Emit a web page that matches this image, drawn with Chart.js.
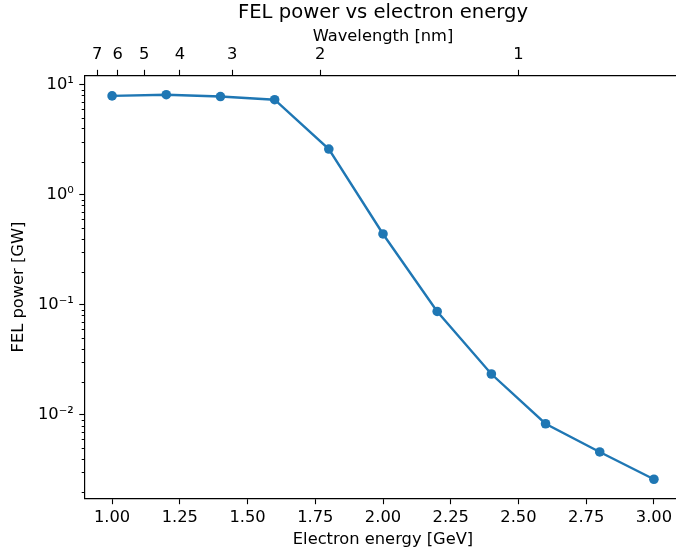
<!DOCTYPE html>
<html>
<head>
<meta charset="utf-8">
<script src="https://cdn.jsdelivr.net/npm/chart.js@4.4.1/dist/chart.umd.min.js"></script>
<style>
  html, body { margin: 0; padding: 0; overflow: hidden; background: #fff; }
  canvas { display: block; }
</style>
</head>
<body>
<canvas id="felPower" width="690" height="555"></canvas>
<script>
// electron energy [GeV] and FEL output power [GW]
const energies = [1.0, 1.2, 1.4, 1.6, 1.8, 2.0, 2.2, 2.4, 2.6, 2.8, 3.0];
const powers = [7.9, 8.1, 7.8, 7.3, 2.6, 0.44, 0.087, 0.0235, 0.0083, 0.0046, 0.0026];

// axis ticks
const energyTicks = [1.00, 1.25, 1.50, 1.75, 2.00, 2.25, 2.50, 2.75, 3.00];
const wavelengthTicks = [7, 6, 5, 4, 3, 2, 1];
const powerDecades = [-3, -2, -1, 0, 1];
const minorSteps = [2, 3, 4, 5, 6, 7, 8, 9];
const supers = { '-': '\u207B', '0': '\u2070', '1': '\u00B9', '2': '\u00B2', '3': '\u00B3' };

// resonant wavelength scales as 1/E^2 (1 nm at 2.5 GeV)
const energyForWavelength = lam => 2.5 / Math.sqrt(lam);

const FONT = 'DejaVu Sans';
const FS = 16.3;
const BLUE = '#1f77b4';
const TICK = 5.7;

// short minor ticks on the log axis
const minorTicks = {
  id: 'minorTicks',
  afterDraw(chart) {
    const y = chart.scales.y;
    const ctx = chart.ctx;
    ctx.save();
    ctx.strokeStyle = '#000';
    ctx.lineWidth = 1;
    y.ticks.forEach(t => {
      if (t.major) return;
      const py = Math.round(y.getPixelForValue(t.value)) + 0.5;
      ctx.beginPath();
      ctx.moveTo(y.right - 3.3, py);
      ctx.lineTo(y.right, py);
      ctx.stroke();
    });
    ctx.restore();
  }
};

// center the title over the plot area instead of the whole canvas
const titleOverAxes = {
  id: 'titleOverAxes',
  afterLayout(chart) {
    const t = chart.titleBlock;
    if (!t) return;
    t.left = chart.chartArea.left;
    t.right = chart.chartArea.right;
  }
};

const axisStyle = {
  grid: {
    display: true,
    drawOnChartArea: false,
    tickLength: TICK,
    tickWidth: 1.1,
    tickColor: '#000'
  },
  border: { display: true, color: '#000', width: 1.2 }
};

new Chart(document.getElementById('felPower'), {
  type: 'line',
  data: {
    datasets: [{
      data: energies.map((e, i) => ({ x: e, y: powers[i] })),
      borderColor: BLUE,
      backgroundColor: BLUE,
      borderWidth: 2.4,
      pointRadius: 4.8,
      pointBorderWidth: 0,
      pointBackgroundColor: BLUE,
      tension: 0,
      fill: false
    }]
  },
  plugins: [minorTicks, titleOverAxes],
  options: {
    animation: false,
    responsive: false,
    devicePixelRatio: 1,
    layout: { padding: { left: 0, right: 9, top: 0, bottom: 0 } },
    plugins: {
      legend: { display: false },
      tooltip: { enabled: false },
      title: {
        display: true,
        text: 'FEL power vs electron energy',
        color: '#000',
        font: { family: FONT, size: 19.6, weight: 'normal' },
        padding: { top: 1.5, bottom: 0.5 }
      }
    },
    scales: {
      x: {
        ...axisStyle,
        type: 'linear',
        position: 'bottom',
        min: 0.9,
        max: 3.1,
        afterBuildTicks: axis => { axis.ticks = energyTicks.map(v => ({ value: v })); },
        afterFit: axis => { axis.height = 56.5; },
        ticks: {
          autoSkip: false,
          maxRotation: 0,
          padding: 4,
          color: '#000',
          font: { family: FONT, size: FS },
          callback: v => v.toFixed(2)
        },
        title: {
          display: true,
          text: 'Electron energy [GeV]',
          color: '#000',
          font: { family: FONT, size: FS },
          padding: { top: 0, bottom: 5.5 }
        }
      },
      x2: {
        ...axisStyle,
        type: 'linear',
        position: 'top',
        min: 0.9,
        max: 3.1,
        afterBuildTicks: axis => {
          axis.ticks = wavelengthTicks.map(lam => ({ value: energyForWavelength(lam) }));
        },
        afterFit: axis => { axis.height = 50; },
        ticks: {
          autoSkip: false,
          maxRotation: 0,
          padding: 5,
          color: '#000',
          font: { family: FONT, size: FS },
          callback: (v, i) => String(wavelengthTicks[i])
        },
        title: {
          display: true,
          text: 'Wavelength [nm]',
          color: '#000',
          font: { family: FONT, size: FS },
          padding: { top: 1, bottom: 0 }
        }
      },
      y: {
        ...axisStyle,
        type: 'logarithmic',
        position: 'left',
        min: Math.pow(10, -2.76),
        max: Math.pow(10, 1.083),
        grid: {
          ...axisStyle.grid,
          tickColor: ctx => (ctx.tick && ctx.tick.major) ? '#000' : 'rgba(0,0,0,0)'
        },
        afterBuildTicks: axis => {
          const t = [];
          powerDecades.forEach(d => {
            [1, ...minorSteps].forEach(k => {
              const v = k * Math.pow(10, d);
              if (v >= axis.min && v <= axis.max) t.push({ value: v, major: k === 1, decade: d });
            });
          });
          axis.ticks = t;
        },
        afterFit: axis => { axis.width = 85; },
        ticks: {
          autoSkip: false,
          padding: 5.5,
          color: '#000',
          font: { family: FONT, size: FS },
          callback: (v, i, ticks) => {
            const t = ticks[i];
            if (!t.major) return '';
            return '10' + String(t.decade).split('').map(c => supers[c]).join('');
          }
        },
        title: {
          display: true,
          text: 'FEL power [GW]',
          color: '#000',
          font: { family: FONT, size: FS },
          padding: { top: 8.7, bottom: 0 }
        }
      }
    }
  }
});
</script>
</body>
</html>
